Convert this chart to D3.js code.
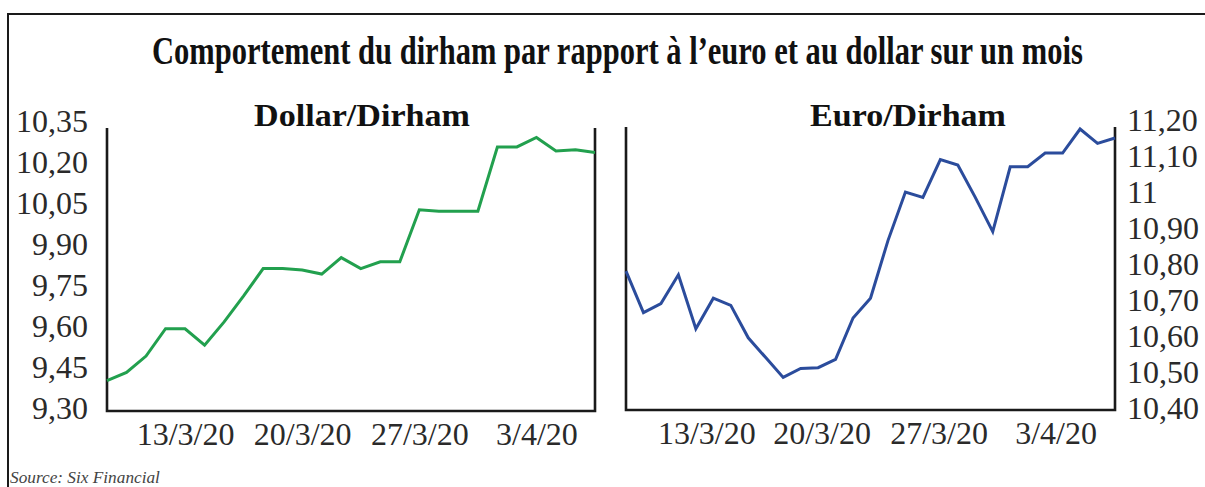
<!DOCTYPE html>
<html>
<head>
<meta charset="utf-8">
<script src="https://cdn.jsdelivr.net/npm/d3@7"></script>
<style>
  body { margin: 0; background: #fff; }
  svg text { font-family: 'Liberation Serif', 'Times New Roman', serif; }
  .tick text { font-size: 32px; fill: #2a2a2a; }
</style>
</head>
<body>
<svg id="chart" width="1205" height="487"></svg>
<script>
// values, one per trading session
const dollarDirham = [9.40, 9.43, 9.49, 9.59, 9.59, 9.53, 9.615, 9.71, 9.81, 9.81,
  9.805, 9.79, 9.85, 9.81, 9.835, 9.835, 10.025, 10.02, 10.02, 10.02,
  10.255, 10.255, 10.29, 10.24, 10.245, 10.235]
const euroDirham = [10.78, 10.665, 10.69, 10.77, 10.62, 10.705, 10.685, 10.595, 10.54, 10.485,
  10.51, 10.512, 10.535, 10.65, 10.705, 10.865, 11.0, 10.985, 11.09, 11.075,
  10.985, 10.89, 11.07, 11.07, 11.108, 11.108, 11.175, 11.135, 11.15]

const dateLabels = ['13/3/20', '20/3/20', '27/3/20', '3/4/20']
const dollarDateIdx = [4, 10, 16, 22]
const euroDateIdx = [4.6, 11.2, 17.9, 24.6]

const dollarTicks = [9.30, 9.45, 9.60, 9.75, 9.90, 10.05, 10.20, 10.35]
const euroTicks = [10.40, 10.50, 10.60, 10.70, 10.80, 10.90, 11.00, 11.10, 11.20]
const euroTickLabels = ['10,40', '10,50', '10,60', '10,70', '10,80', '10,90', '11', '11,10', '11,20']

const svg = d3.select('#chart')

// squeeze a text horizontally to a given width, keeping its left edge or centre
function condensed (x, y, width, anchor, str) {
  const g = svg.append('g')
  const t = g.append('text').attr('text-anchor', anchor).text(str)
  return {
    t,
    fit () {
      const sx = width / t.node().getComputedTextLength()
      g.attr('transform', `translate(${x},${y}) scale(${sx},1)`)
      return t
    }
  }
}

// outer frame (top and left edges only)
svg.append('path')
  .attr('d', 'M8,487V14H1205')
  .attr('fill', 'none')
  .attr('stroke', '#1a1a1a')
  .attr('stroke-width', 2)

const title = condensed(152, 64, 931, 'start',
  'Comportement du dirham par rapport à l\u2019euro et au dollar sur un mois')
title.t.style('font-size', '40px').style('font-weight', 'bold').attr('fill', '#111')
title.fit()

const source = condensed(10, 483, 150, 'start', 'Source: Six Financial')
source.t.style('font-size', '16px').style('font-style', 'italic').attr('fill', '#444')
source.fit()

function panel (opts) {
  const x = d3.scaleLinear().domain([0, opts.data.length - 1]).range([opts.left, opts.right])
  const y = d3.scaleLinear().domain(opts.yDomain).range(opts.yRange)

  const g = svg.append('g')

  // open-topped box
  g.append('path')
    .attr('d', `M${opts.left},${opts.top}V${opts.bottom}H${opts.right}V${opts.top}`)
    .attr('fill', 'none')
    .attr('stroke', '#1a1a1a')
    .attr('stroke-width', 2.6)

  const yAxis = (opts.side === 'left' ? d3.axisLeft(y) : d3.axisRight(y))
    .tickValues(opts.yTicks)
    .tickSize(0)
    .tickPadding(opts.side === 'left' ? 19 : 12)
    .tickFormat((d, i) => opts.yLabels[i])

  g.append('g')
    .attr('transform', `translate(${opts.side === 'left' ? opts.left : opts.right},0)`)
    .call(yAxis)
    .call(s => s.select('.domain').remove())

  g.append('g')
    .attr('transform', `translate(0,${opts.bottom})`)
    .call(d3.axisBottom(x).tickValues(opts.dateIdx).tickSize(0).tickPadding(11)
      .tickFormat((d, i) => dateLabels[i]))
    .call(s => s.select('.domain').remove())

  g.append('path')
    .datum(opts.data)
    .attr('fill', 'none')
    .attr('stroke', opts.color)
    .attr('stroke-width', 3)
    .attr('stroke-linejoin', 'miter')
    .attr('d', d3.line().x((d, i) => x(i)).y(d => y(d)))

  const head = condensed(opts.titleX, 126, opts.titleW, 'middle', opts.title)
  head.t.style('font-size', '31px').style('font-weight', 'bold').attr('fill', '#111')
  head.fit()
}

panel({
  data: dollarDirham,
  left: 107, right: 595, top: 128, bottom: 411,
  yDomain: [9.30, 10.35], yRange: [408, 121],
  yTicks: dollarTicks,
  yLabels: dollarTicks.map(d => d3.format('.2f')(d).replace('.', ',')),
  dateIdx: dollarDateIdx,
  side: 'left',
  color: '#22a04e',
  title: 'Dollar/Dirham', titleX: 362, titleW: 216
})

panel({
  data: euroDirham,
  left: 626, right: 1115, top: 127, bottom: 410,
  yDomain: [10.40, 11.20], yRange: [408, 120],
  yTicks: euroTicks,
  yLabels: euroTickLabels,
  dateIdx: euroDateIdx,
  side: 'right',
  color: '#2b4c9c',
  title: 'Euro/Dirham', titleX: 908, titleW: 196
})
</script>
</body>
</html>
